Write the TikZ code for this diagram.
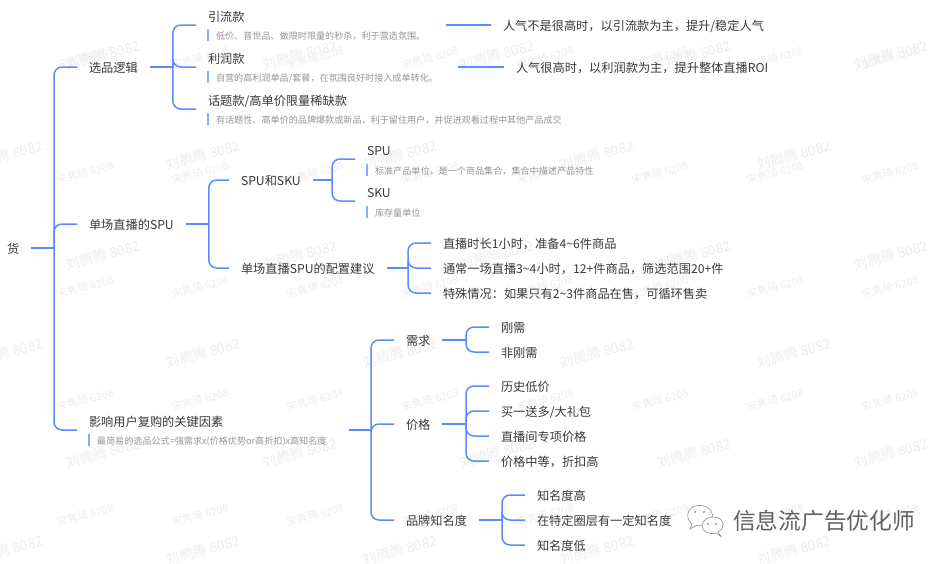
\documentclass[tikz,border=0pt]{standalone}
\usepackage{fontspec}
\setmainfont{Noto Sans CJK SC}
\definecolor{linkblue}{HTML}{5B8CFF}
\definecolor{barblue}{HTML}{8FABF5}
\tikzset{
    topic/.style={anchor=west,inner xsep=12pt,inner ysep=0pt,outer sep=0pt,text height=11.5pt,text depth=0pt,text=black!78,font=\fontsize{12.2}{14}\selectfont},
    note/.style={anchor=west,inner sep=0pt,outer sep=0pt,minimum height=12pt,text height=9pt,text depth=0pt,text=black!42,font=\fontsize{9.1}{11}\selectfont},
    link/.style={draw=linkblue,line width=1.5pt},
    bendlink/.style={link,rounded corners=8pt},
    notebar/.style={draw=barblue,line width=1.8pt},
    wmliu/.style={rotate=15,text=black!7,inner sep=0pt,font=\fontsize{14}{16}\selectfont},
    wmsong/.style={rotate=15,text=black!7,inner sep=0pt,font=\fontsize{10.7}{12}\selectfont},
    logoline/.style={draw=black!45,line width=0.6pt,fill=white}
}
\begin{document}
\begin{tikzpicture}[x=1pt,y=-1pt]
    \clip (0,0) rectangle (945,563);

    % Watermarks
    \foreach \wy in {55,255,453}
        \foreach \wx in {103,300,497,694,891}
            \node[wmliu] (liu\wx\wy) at (\wx,\wy) {刘腾腾 8082};
    \foreach \wy in {155,353,550}
        \foreach \wx in {6,203,400,597,794}
            \node[wmliu] (liu\wx\wy) at (\wx,\wy) {刘腾腾 8082};
    \foreach \wy in {58,173,287,400,515}
        \foreach \wx in {85,200,315,430,545,660,775,890}
            \node[wmsong] (song\wx\wy) at (\wx,\wy) {宋隽琦 6208};

    % Root and first level
    \node[topic,inner xsep=7pt] (huo) at (0,248) {货};
    \node[topic] (xuanpin) at (77,67) {选品逻辑};
    \node[topic] (danchang) at (77,224) {单场直播的SPU};
    \node[topic] (fugou) at (77,421) {影响用户复购的关键因素};
    \node[note] (fugounote) at (97,440) {最简易的选品公式=强需求x(价格优势or高折扣)x高知名度};
    \coordinate (fugouin) at (77,430);
    \coordinate (fugouout) at (349,430);

    % Selection logic
    \node[topic] (yinliu) at (196,16) {引流款};
    \node[note] (yinliunote) at (216,35) {低价、普世品、做限时限量的秒杀，利于营造氛围。};
    \node[topic] (lirun) at (196,58) {利润款};
    \node[note] (lirunnote) at (216,77) {自营的高利润单品/套餐，在氛围良好时接入成单转化。};
    \node[topic] (huati) at (196,100) {话题款/高单价限量稀缺款};
    \node[note] (huatinote) at (216,119) {有话题性、高单价的品牌爆款或新品，利于留住用户，并促进观看过程中其他产品成交};
    \coordinate (yinliuin) at (196,25);
    \coordinate (lirunin) at (196,67);
    \coordinate (huatiin) at (196,109);
    \coordinate (yinliuout) at (446,25);
    \coordinate (lirunout) at (458,67);
    \node[topic] (renqidi) at (491,25) {人气不是很高时，以引流款为主，提升/稳定人气};
    \node[topic] (renqigao) at (504,67) {人气很高时，以利润款为主，提升整体直播ROI};

    % SPU
    \node[topic] (spusku) at (229,180) {SPU和SKU};
    \node[topic] (peizhi) at (229,268) {单场直播SPU的配置建议};
    \node[topic] (spu) at (355,150) {SPU};
    \node[note] (spunote) at (375,170) {标准产品单位，是一个商品集合，集合中描述产品特性};
    \node[topic] (sku) at (355,192) {SKU};
    \node[note] (skunote) at (375,212) {库存量单位};
    \coordinate (spuin) at (355,159);
    \coordinate (skuin) at (355,201);
    \node[topic] (shichang) at (431,243) {直播时长1小时，准备4\textasciitilde 6件商品};
    \node[topic] (tongchang) at (431,268) {通常一场直播3\textasciitilde 4小时，12+件商品，筛选范围20+件};
    \node[topic] (teshu) at (431,293) {特殊情况：如果只有2\textasciitilde 3件商品在售，可循环售卖};

    % Repurchase factors
    \node[topic] (xuqiu) at (394,340) {需求};
    \node[topic] (jiage) at (394,424) {价格};
    \node[topic] (pinpai) at (394,520) {品牌知名度};
    \node[topic] (gangxu) at (489,327) {刚需};
    \node[topic] (feigang) at (489,352) {非刚需};
    \node[topic] (lishi) at (489,386) {历史低价};
    \node[topic] (maiyi) at (489,411) {买一送多/大礼包};
    \node[topic] (zhibojian) at (489,436) {直播间专项价格};
    \node[topic] (zhongdeng) at (489,461) {价格中等，折扣高};
    \node[topic] (gao) at (525,495) {知名度高};
    \node[topic] (quanceng) at (525,520) {在特定圈层有一定知名度};
    \node[topic] (di) at (525,545) {知名度低};

    % Connectors
    \draw[link,shorten <=5pt] (huo.east) -- (54,248) coordinate (huohub);
    \foreach \kid in {xuanpin.west,danchang.west,fugouin}
        \draw[bendlink] (huohub) |- (\kid);

    \draw[link] (xuanpin.east) -- ++(23,0) coordinate (xuanpinhub);
    \foreach \kid in {yinliuin,lirunin,huatiin}
        \draw[bendlink] (xuanpinhub) |- (\kid);
    \draw[link] (yinliuout) -- (renqidi.west);
    \draw[link] (lirunout) -- (renqigao.west);

    \draw[link] (danchang.east) -- ++(23,0) coordinate (danchanghub);
    \foreach \kid in {spusku,peizhi}
        \draw[bendlink] (danchanghub) |- (\kid.west);

    \draw[link] (spusku.east) -- (332,180) coordinate (spuskuhub);
    \foreach \kid in {spuin,skuin}
        \draw[bendlink] (spuskuhub) |- (\kid);

    \draw[link] (peizhi.east) -- (408,268) coordinate (peizhihub);
    \foreach \kid in {shichang,tongchang,teshu}
        \draw[bendlink] (peizhihub) |- (\kid.west);

    \draw[link] (fugouout) -- (371,430) coordinate (fugouhub);
    \foreach \kid in {xuqiu,jiage,pinpai}
        \draw[bendlink] (fugouhub) |- (\kid.west);

    \draw[link] (xuqiu.east) -- (466,340) coordinate (xuqiuhub);
    \foreach \kid in {gangxu,feigang}
        \draw[bendlink] (xuqiuhub) |- (\kid.west);

    \draw[link] (jiage.east) -- (466,424) coordinate (jiagehub);
    \foreach \kid in {lishi,maiyi,zhibojian,zhongdeng}
        \draw[bendlink] (jiagehub) |- (\kid.west);

    \draw[link] (pinpai.east) -- (502,520) coordinate (pinpaihub);
    \foreach \kid in {gao,quanceng,di}
        \draw[bendlink] (pinpaihub) |- (\kid.west);

    % Bars beside the notes
    \foreach \n in {yinliunote,lirunnote,huatinote,fugounote,spunote,skunote}
        \draw[notebar] ([xshift=-8pt]\n.north west) -- ([xshift=-8pt]\n.south west);

    % Account mark
    \draw[logoline] (692,524) .. controls (686,519) and (686,510) .. (694,506.5) .. controls (702,503.5) and (711,507) .. (712.5,515) .. controls (712.5,522) and (703,527) .. (696,525.5) -- (690,529) -- cycle;
    \draw[logoline] (718,532) .. controls (725,528) and (725,520) .. (717,517.5) .. controls (709,515.5) and (702,520) .. (702,526) .. controls (702,532) and (710,535) .. (716,533) -- (721,536.5) -- cycle;
    \foreach \dx/\dy in {695/512,704/512,708/524,716/524}
        \fill[black!55] (\dx,\dy) circle (0.9);
    \node[anchor=west,inner sep=0pt,text=black!62,font=\fontsize{22.7}{26}\selectfont] (zhanghao) at (733,521) {信息流广告优化师};
\end{tikzpicture}
\end{document}
